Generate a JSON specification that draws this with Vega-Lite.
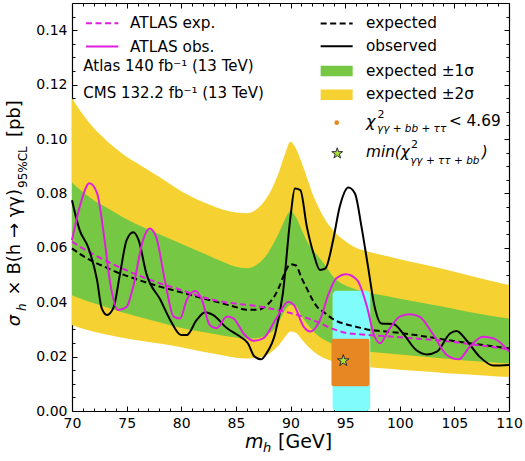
{
  "$schema": "https://vega.github.io/schema/vega-lite/v6.json",
  "width": 437,
  "height": 408,
  "autosize": {"type": "none"},
  "padding": {"left": 72, "top": 3, "right": 16, "bottom": 50},
  "background": "white",
  "config": {"view": {"stroke": null}, "font": "DejaVu Sans", "text": {"font": "DejaVu Sans", "color": "black"}},
  "resolve": {"axis": {"x": "independent", "y": "independent"}},
  "datasets": {
    "band": [
      {"m": 70, "lo2": 0.0316, "lo1": 0.0426, "exp": 0.0598, "hi1": 0.084, "hi2": 0.115},
      {"m": 71, "lo2": 0.0302, "lo1": 0.041, "exp": 0.057, "hi1": 0.0805, "hi2": 0.109},
      {"m": 72, "lo2": 0.0291, "lo1": 0.0396, "exp": 0.0548, "hi1": 0.0775, "hi2": 0.104},
      {"m": 73, "lo2": 0.0282, "lo1": 0.0383, "exp": 0.053, "hi1": 0.0752, "hi2": 0.1},
      {"m": 74, "lo2": 0.0274, "lo1": 0.037, "exp": 0.0512, "hi1": 0.0728, "hi2": 0.0965},
      {"m": 75, "lo2": 0.0267, "lo1": 0.0358, "exp": 0.0497, "hi1": 0.0705, "hi2": 0.0935},
      {"m": 76, "lo2": 0.026, "lo1": 0.0347, "exp": 0.0483, "hi1": 0.0685, "hi2": 0.091},
      {"m": 78, "lo2": 0.0248, "lo1": 0.0326, "exp": 0.0458, "hi1": 0.065, "hi2": 0.086},
      {"m": 80, "lo2": 0.0234, "lo1": 0.0305, "exp": 0.0436, "hi1": 0.0615, "hi2": 0.0808},
      {"m": 82, "lo2": 0.0218, "lo1": 0.029, "exp": 0.0414, "hi1": 0.058, "hi2": 0.0768},
      {"m": 84, "lo2": 0.0203, "lo1": 0.0276, "exp": 0.0393, "hi1": 0.0545, "hi2": 0.0738},
      {"m": 85, "lo2": 0.0196, "lo1": 0.027, "exp": 0.0382, "hi1": 0.053, "hi2": 0.073},
      {"m": 86, "lo2": 0.0193, "lo1": 0.0266, "exp": 0.0372, "hi1": 0.0525, "hi2": 0.0727},
      {"m": 87, "lo2": 0.0195, "lo1": 0.0268, "exp": 0.0372, "hi1": 0.054, "hi2": 0.0745},
      {"m": 88, "lo2": 0.021, "lo1": 0.0285, "exp": 0.0395, "hi1": 0.0585, "hi2": 0.0795},
      {"m": 88.5, "lo2": 0.0225, "lo1": 0.03, "exp": 0.042, "hi1": 0.062, "hi2": 0.0835},
      {"m": 89, "lo2": 0.0245, "lo1": 0.0332, "exp": 0.046, "hi1": 0.066, "hi2": 0.0885},
      {"m": 89.5, "lo2": 0.0272, "lo1": 0.037, "exp": 0.051, "hi1": 0.0705, "hi2": 0.0945},
      {"m": 90, "lo2": 0.0292, "lo1": 0.039, "exp": 0.054, "hi1": 0.0735, "hi2": 0.099},
      {"m": 90.5, "lo2": 0.0288, "lo1": 0.0385, "exp": 0.0535, "hi1": 0.0712, "hi2": 0.0965},
      {"m": 91, "lo2": 0.0265, "lo1": 0.035, "exp": 0.049, "hi1": 0.0668, "hi2": 0.0915},
      {"m": 91.5, "lo2": 0.0242, "lo1": 0.0322, "exp": 0.045, "hi1": 0.0625, "hi2": 0.0858},
      {"m": 92, "lo2": 0.0222, "lo1": 0.0298, "exp": 0.041, "hi1": 0.0595, "hi2": 0.08},
      {"m": 92.5, "lo2": 0.0207, "lo1": 0.0278, "exp": 0.038, "hi1": 0.057, "hi2": 0.0755},
      {"m": 93, "lo2": 0.0196, "lo1": 0.0264, "exp": 0.0365, "hi1": 0.0545, "hi2": 0.0715},
      {"m": 94, "lo2": 0.0181, "lo1": 0.0245, "exp": 0.0335, "hi1": 0.049, "hi2": 0.066},
      {"m": 95, "lo2": 0.0172, "lo1": 0.0233, "exp": 0.032, "hi1": 0.0462, "hi2": 0.0625},
      {"m": 96, "lo2": 0.0166, "lo1": 0.0226, "exp": 0.031, "hi1": 0.0447, "hi2": 0.06},
      {"m": 97, "lo2": 0.0162, "lo1": 0.022, "exp": 0.03, "hi1": 0.0436, "hi2": 0.0587},
      {"m": 98, "lo2": 0.0158, "lo1": 0.0215, "exp": 0.0295, "hi1": 0.0428, "hi2": 0.0577},
      {"m": 100, "lo2": 0.0152, "lo1": 0.0208, "exp": 0.0287, "hi1": 0.0413, "hi2": 0.0558},
      {"m": 102, "lo2": 0.0146, "lo1": 0.02, "exp": 0.0276, "hi1": 0.0398, "hi2": 0.054},
      {"m": 104, "lo2": 0.014, "lo1": 0.0193, "exp": 0.0263, "hi1": 0.0383, "hi2": 0.0522},
      {"m": 106, "lo2": 0.0135, "lo1": 0.0186, "exp": 0.0251, "hi1": 0.0367, "hi2": 0.0502},
      {"m": 108, "lo2": 0.013, "lo1": 0.018, "exp": 0.0241, "hi1": 0.0352, "hi2": 0.0482},
      {"m": 110, "lo2": 0.0125, "lo1": 0.0175, "exp": 0.023, "hi1": 0.034, "hi2": 0.0463}
    ],
    "atlasExp": [
      {"m": 70, "v": 0.0622}, {"m": 72, "v": 0.0575}, {"m": 74, "v": 0.0535}, {"m": 76, "v": 0.05},
      {"m": 78, "v": 0.047}, {"m": 80, "v": 0.0445}, {"m": 82, "v": 0.0418}, {"m": 84, "v": 0.04},
      {"m": 86, "v": 0.039}, {"m": 87, "v": 0.0385}, {"m": 88, "v": 0.0378}, {"m": 90, "v": 0.036},
      {"m": 92, "v": 0.0335}, {"m": 94, "v": 0.03}, {"m": 95, "v": 0.0288}, {"m": 96, "v": 0.0283},
      {"m": 98, "v": 0.0277}, {"m": 100, "v": 0.0271}, {"m": 102, "v": 0.0265}, {"m": 104, "v": 0.0258},
      {"m": 106, "v": 0.0248}, {"m": 108, "v": 0.0238}, {"m": 110, "v": 0.0227}
    ],
    "obs": [
      {"m": 70, "v": 0.0775}, {"m": 70.7, "v": 0.0665}, {"m": 71.5, "v": 0.06}, {"m": 72.3, "v": 0.048},
      {"m": 72.7, "v": 0.038}, {"m": 73.2, "v": 0.0353}, {"m": 73.8, "v": 0.038}, {"m": 74.4, "v": 0.0506},
      {"m": 75.0, "v": 0.0628}, {"m": 75.6, "v": 0.0657}, {"m": 76.1, "v": 0.0628}, {"m": 76.8, "v": 0.0506},
      {"m": 78.1, "v": 0.0408}, {"m": 79.0, "v": 0.0334}, {"m": 80.0, "v": 0.0279}, {"m": 80.5, "v": 0.0279},
      {"m": 81.4, "v": 0.0334}, {"m": 82.2, "v": 0.0363}, {"m": 82.9, "v": 0.0353}, {"m": 84.2, "v": 0.0304},
      {"m": 85.4, "v": 0.0273}, {"m": 86.1, "v": 0.0249}, {"m": 86.7, "v": 0.02}, {"m": 87.3, "v": 0.019},
      {"m": 87.8, "v": 0.0212}, {"m": 88.6, "v": 0.0285}, {"m": 89.3, "v": 0.0432}, {"m": 90.0, "v": 0.0714},
      {"m": 90.4, "v": 0.0818}, {"m": 90.9, "v": 0.0812}, {"m": 91.5, "v": 0.0677}, {"m": 92.1, "v": 0.058},
      {"m": 92.7, "v": 0.0518}, {"m": 93.2, "v": 0.0524}, {"m": 93.9, "v": 0.0628}, {"m": 94.5, "v": 0.075},
      {"m": 95.3, "v": 0.0822}, {"m": 95.9, "v": 0.08}, {"m": 96.5, "v": 0.0677}, {"m": 97.1, "v": 0.053},
      {"m": 97.7, "v": 0.0383}, {"m": 98.3, "v": 0.0322}, {"m": 99.4, "v": 0.032}, {"m": 100.3, "v": 0.0285},
      {"m": 101.5, "v": 0.0224}, {"m": 102.5, "v": 0.0208}, {"m": 103.4, "v": 0.0218}, {"m": 104.6, "v": 0.0285},
      {"m": 105.2, "v": 0.0294}, {"m": 106.1, "v": 0.026}, {"m": 107.3, "v": 0.02}, {"m": 108.6, "v": 0.0167},
      {"m": 110, "v": 0.0169}
    ],
    "atlasObs": [
      {"m": 70, "v": 0.0628}, {"m": 70.7, "v": 0.075}, {"m": 71.6, "v": 0.0837}, {"m": 72.3, "v": 0.08},
      {"m": 72.9, "v": 0.0653}, {"m": 73.5, "v": 0.0469}, {"m": 74.2, "v": 0.0371}, {"m": 75.0, "v": 0.0383},
      {"m": 75.6, "v": 0.0457}, {"m": 76.5, "v": 0.0628}, {"m": 77.1, "v": 0.0671}, {"m": 77.7, "v": 0.064},
      {"m": 78.5, "v": 0.0481}, {"m": 79.3, "v": 0.0347}, {"m": 79.9, "v": 0.034}, {"m": 80.5, "v": 0.0408},
      {"m": 81.3, "v": 0.0441}, {"m": 81.9, "v": 0.0408}, {"m": 82.6, "v": 0.0316}, {"m": 83.2, "v": 0.0304},
      {"m": 84.2, "v": 0.0347}, {"m": 84.8, "v": 0.034}, {"m": 85.7, "v": 0.0285}, {"m": 86.6, "v": 0.0258},
      {"m": 87.5, "v": 0.0267}, {"m": 88.7, "v": 0.034}, {"m": 89.8, "v": 0.0402}, {"m": 90.3, "v": 0.039},
      {"m": 91.2, "v": 0.031}, {"m": 91.8, "v": 0.0292}, {"m": 92.7, "v": 0.0334}, {"m": 93.5, "v": 0.0432},
      {"m": 94.2, "v": 0.0488}, {"m": 95.1, "v": 0.0503}, {"m": 96.1, "v": 0.0481}, {"m": 97.0, "v": 0.0383},
      {"m": 97.6, "v": 0.0285}, {"m": 98.2, "v": 0.0249}, {"m": 99.0, "v": 0.0298}, {"m": 100.0, "v": 0.0347},
      {"m": 100.9, "v": 0.0356}, {"m": 101.8, "v": 0.0347}, {"m": 103.0, "v": 0.0285}, {"m": 104.3, "v": 0.0206},
      {"m": 105.4, "v": 0.019}, {"m": 106.4, "v": 0.0236}, {"m": 107.6, "v": 0.0273}, {"m": 108.6, "v": 0.0267},
      {"m": 110, "v": 0.0218}
    ],
    "cyanRegion": [{"m0": 93.85, "m1": 97.3, "v0": 0, "v1": 0.0442}],
    "orangeRegion": [{"m0": 93.75, "m1": 97.22, "v0": 0.0091, "v1": 0.0266}],
    "best": [{"m": 94.83, "v": 0.0185}]
  },
  "layer": [
    {
      "data": {"name": "band"},
      "mark": {"type": "area", "color": "#f5d232", "interpolate": "monotone"},
      "encoding": {
        "x": {"field": "m", "type": "quantitative", "scale": {"domain": [70, 110], "nice": false, "zero": false},
          "axis": {"orient": "bottom", "title": null, "grid": false, "values": [70,71,72,73,74,75,76,77,78,79,80,81,82,83,84,85,86,87,88,89,90,91,92,93,94,95,96,97,98,99,100,101,102,103,104,105,106,107,108,109,110],
            "labelExpr": "datum.value % 5 === 0 ? format(datum.value, 'd') : ''",
            "tickSize": {"condition": {"test": "datum.value % 5 === 0", "value": -5}, "value": -3},
            "labelPadding": 10, "labelFontSize": 14, "labelColor": "black", "labelFont": "DejaVu Sans",
            "labelOverlap": false, "labelFlush": false, "domainColor": "black", "tickColor": "black", "domainWidth": 1.2, "tickWidth": 1}},
        "y": {"field": "lo2", "type": "quantitative", "scale": {"domain": [0, 0.15], "nice": false},
          "axis": {"orient": "left", "title": null, "grid": false, "values": [0,0.005,0.01,0.015,0.02,0.025,0.03,0.035,0.04,0.045,0.05,0.055,0.06,0.065,0.07,0.075,0.08,0.085,0.09,0.095,0.1,0.105,0.11,0.115,0.12,0.125,0.13,0.135,0.14,0.145],
            "labelExpr": "round(datum.value*1000) % 20 === 0 ? format(datum.value, '.2f') : ''",
            "tickSize": {"condition": {"test": "round(datum.value*1000) % 20 === 0", "value": -5}, "value": -3},
            "labelPadding": 10, "labelFontSize": 14, "labelColor": "black", "labelFont": "DejaVu Sans",
            "labelOverlap": false, "labelFlush": false, "domainColor": "black", "tickColor": "black", "domainWidth": 1.2, "tickWidth": 1}},
        "y2": {"field": "hi2"}
      }
    },
    {
      "data": {"name": "band"},
      "mark": {"type": "area", "color": "#76c844", "interpolate": "monotone"},
      "encoding": {
        "x": {"field": "m", "type": "quantitative",
          "axis": {"orient": "top", "title": null, "grid": false, "labels": false, "values": [70,71,72,73,74,75,76,77,78,79,80,81,82,83,84,85,86,87,88,89,90,91,92,93,94,95,96,97,98,99,100,101,102,103,104,105,106,107,108,109,110],
            "tickSize": {"condition": {"test": "datum.value % 5 === 0", "value": -5}, "value": -3},
            "domainColor": "black", "tickColor": "black", "domainWidth": 1.2, "tickWidth": 1}},
        "y": {"field": "lo1", "type": "quantitative",
          "axis": {"orient": "right", "title": null, "grid": false, "labels": false, "values": [0,0.005,0.01,0.015,0.02,0.025,0.03,0.035,0.04,0.045,0.05,0.055,0.06,0.065,0.07,0.075,0.08,0.085,0.09,0.095,0.1,0.105,0.11,0.115,0.12,0.125,0.13,0.135,0.14,0.145],
            "tickSize": {"condition": {"test": "round(datum.value*1000) % 20 === 0", "value": -5}, "value": -3},
            "domainColor": "black", "tickColor": "black", "domainWidth": 1.2, "tickWidth": 1}},
        "y2": {"field": "hi1"}
      }
    },
    {
      "data": {"name": "cyanRegion"},
      "mark": {"type": "rect", "color": "#80fcfc", "cornerRadius": 4},
      "encoding": {
        "x": {"field": "m0", "type": "quantitative", "axis": null}, "x2": {"field": "m1"},
        "y": {"field": "v0", "type": "quantitative", "axis": null}, "y2": {"field": "v1"}
      }
    },
    {
      "data": {"name": "orangeRegion"},
      "mark": {"type": "rect", "color": "#e68723", "cornerRadius": 2},
      "encoding": {
        "x": {"field": "m0", "type": "quantitative", "axis": null}, "x2": {"field": "m1"},
        "y": {"field": "v0", "type": "quantitative", "axis": null}, "y2": {"field": "v1"}
      }
    },
    {
      "data": {"name": "band"},
      "mark": {"type": "line", "color": "black", "strokeWidth": 2, "strokeDash": [6, 3.5], "interpolate": "monotone"},
      "encoding": {
        "x": {"field": "m", "type": "quantitative", "axis": null},
        "y": {"field": "exp", "type": "quantitative", "axis": null}
      }
    },
    {
      "data": {"name": "atlasExp"},
      "mark": {"type": "line", "color": "#e01ee0", "strokeWidth": 2, "strokeDash": [6, 3.5], "interpolate": "monotone"},
      "encoding": {
        "x": {"field": "m", "type": "quantitative", "axis": null},
        "y": {"field": "v", "type": "quantitative", "axis": null}
      }
    },
    {
      "data": {"name": "obs"},
      "mark": {"type": "line", "color": "black", "strokeWidth": 2, "interpolate": "monotone"},
      "encoding": {
        "x": {"field": "m", "type": "quantitative", "axis": null},
        "y": {"field": "v", "type": "quantitative", "axis": null}
      }
    },
    {
      "data": {"name": "atlasObs"},
      "mark": {"type": "line", "color": "#e01ee0", "strokeWidth": 2, "interpolate": "monotone"},
      "encoding": {
        "x": {"field": "m", "type": "quantitative", "axis": null},
        "y": {"field": "v", "type": "quantitative", "axis": null}
      }
    },
    {
      "data": {"name": "best"},
      "mark": {"type": "point", "filled": true, "fill": "#a8e03a", "stroke": "#333333", "strokeWidth": 1, "opacity": 1, "size": 150,
        "shape": "M0,-1L0.2245,-0.309L0.951,-0.309L0.363,0.118L0.588,0.809L0,0.382L-0.588,0.809L-0.363,0.118L-0.951,-0.309L-0.2245,-0.309Z"},
      "encoding": {
        "x": {"field": "m", "type": "quantitative", "axis": null},
        "y": {"field": "v", "type": "quantitative", "axis": null}
      }
    },
    {
      "data": {"values": [{}]},
      "layer": [
        {"mark": {"type": "rule", "color": "#e01ee0", "strokeWidth": 2, "strokeDash": [6, 3.5]},
         "encoding": {"x": {"datum": 71.28, "type": "quantitative", "axis": null}, "x2": {"datum": 74.24}, "y": {"datum": 0.1426, "type": "quantitative", "axis": null}}},
        {"mark": {"type": "rule", "color": "#e01ee0", "strokeWidth": 2},
         "encoding": {"x": {"datum": 71.28, "type": "quantitative", "axis": null}, "x2": {"datum": 74.24}, "y": {"datum": 0.134, "type": "quantitative", "axis": null}}},
        {"mark": {"type": "text", "align": "left", "baseline": "middle", "fontSize": 15.3, "text": "ATLAS exp."},
         "encoding": {"x": {"datum": 75.31, "type": "quantitative", "axis": null}, "y": {"datum": 0.1426, "type": "quantitative", "axis": null}}},
        {"mark": {"type": "text", "align": "left", "baseline": "middle", "fontSize": 15.3, "text": "ATLAS obs."},
         "encoding": {"x": {"datum": 75.31, "type": "quantitative", "axis": null}, "y": {"datum": 0.134, "type": "quantitative", "axis": null}}},
        {"mark": {"type": "text", "align": "left", "baseline": "middle", "fontSize": 15, "text": "Atlas 140 fb⁻¹ (13 TeV)"},
         "encoding": {"x": {"datum": 71.03, "type": "quantitative", "axis": null}, "y": {"datum": 0.1268, "type": "quantitative", "axis": null}}},
        {"mark": {"type": "text", "align": "left", "baseline": "middle", "fontSize": 15, "text": "CMS 132.2 fb⁻¹ (13 TeV)"},
         "encoding": {"x": {"datum": 71.03, "type": "quantitative", "axis": null}, "y": {"datum": 0.117, "type": "quantitative", "axis": null}}},
        {"mark": {"type": "rule", "color": "black", "strokeWidth": 2, "strokeDash": [6, 3.5]},
         "encoding": {"x": {"datum": 92.76, "type": "quantitative", "axis": null}, "x2": {"datum": 95.69}, "y": {"datum": 0.1425, "type": "quantitative", "axis": null}}},
        {"mark": {"type": "rule", "color": "black", "strokeWidth": 2},
         "encoding": {"x": {"datum": 92.76, "type": "quantitative", "axis": null}, "x2": {"datum": 95.69}, "y": {"datum": 0.1341, "type": "quantitative", "axis": null}}},
        {"mark": {"type": "rect", "color": "#76c844"},
         "encoding": {"x": {"datum": 92.76, "type": "quantitative", "axis": null}, "x2": {"datum": 95.69}, "y": {"datum": 0.1231, "type": "quantitative", "axis": null}, "y2": {"datum": 0.1269}}},
        {"mark": {"type": "rect", "color": "#f5d232"},
         "encoding": {"x": {"datum": 92.76, "type": "quantitative", "axis": null}, "x2": {"datum": 95.69}, "y": {"datum": 0.1143, "type": "quantitative", "axis": null}, "y2": {"datum": 0.1182}}},
        {"mark": {"type": "text", "align": "left", "baseline": "middle", "fontSize": 15.3, "text": "expected"},
         "encoding": {"x": {"datum": 96.91, "type": "quantitative", "axis": null}, "y": {"datum": 0.1425, "type": "quantitative", "axis": null}}},
        {"mark": {"type": "text", "align": "left", "baseline": "middle", "fontSize": 15.3, "text": "observed"},
         "encoding": {"x": {"datum": 96.91, "type": "quantitative", "axis": null}, "y": {"datum": 0.1341, "type": "quantitative", "axis": null}}},
        {"mark": {"type": "text", "align": "left", "baseline": "middle", "fontSize": 15.3, "text": "expected ±1σ"},
         "encoding": {"x": {"datum": 96.91, "type": "quantitative", "axis": null}, "y": {"datum": 0.1251, "type": "quantitative", "axis": null}}},
        {"mark": {"type": "text", "align": "left", "baseline": "middle", "fontSize": 15.3, "text": "expected ±2σ"},
         "encoding": {"x": {"datum": 96.91, "type": "quantitative", "axis": null}, "y": {"datum": 0.1164, "type": "quantitative", "axis": null}}},
        {"mark": {"type": "point", "filled": true, "color": "#e68723", "opacity": 1, "size": 22, "shape": "circle"},
         "encoding": {"x": {"datum": 94.23, "type": "quantitative", "axis": null}, "y": {"datum": 0.106, "type": "quantitative", "axis": null}}},
        {"mark": {"type": "point", "filled": true, "fill": "#a8e03a", "stroke": "#333333", "strokeWidth": 1, "opacity": 1, "size": 130,
           "shape": "M0,-1L0.2245,-0.309L0.951,-0.309L0.363,0.118L0.588,0.809L0,0.382L-0.588,0.809L-0.363,0.118L-0.951,-0.309L-0.2245,-0.309Z"},
         "encoding": {"x": {"datum": 94.28, "type": "quantitative", "axis": null}, "y": {"datum": 0.0947, "type": "quantitative", "axis": null}}},
        {"mark": {"type": "text", "align": "left", "baseline": "middle", "fontSize": 16, "fontStyle": "italic", "text": "χ"},
         "encoding": {"x": {"datum": 96.91, "type": "quantitative", "axis": null}, "y": {"datum": 0.1062, "type": "quantitative", "axis": null}}},
        {"mark": {"type": "text", "align": "left", "baseline": "middle", "fontSize": 11, "text": "2"},
         "encoding": {"x": {"datum": 97.96, "type": "quantitative", "axis": null}, "y": {"datum": 0.1088, "type": "quantitative", "axis": null}}},
        {"mark": {"type": "text", "align": "left", "baseline": "middle", "fontSize": 10.5, "fontStyle": "italic", "text": "γγ + bb + ττ"},
         "encoding": {"x": {"datum": 97.91, "type": "quantitative", "axis": null}, "y": {"datum": 0.1038, "type": "quantitative", "axis": null}}},
        {"mark": {"type": "text", "align": "left", "baseline": "middle", "fontSize": 15.3, "text": "< 4.69"},
         "encoding": {"x": {"datum": 104.5, "type": "quantitative", "axis": null}, "y": {"datum": 0.1066, "type": "quantitative", "axis": null}}},
        {"mark": {"type": "text", "align": "left", "baseline": "middle", "fontSize": 15.3, "fontStyle": "italic", "text": "min(χ"},
         "encoding": {"x": {"datum": 96.91, "type": "quantitative", "axis": null}, "y": {"datum": 0.0953, "type": "quantitative", "axis": null}}},
        {"mark": {"type": "text", "align": "left", "baseline": "middle", "fontSize": 11, "text": "2"},
         "encoding": {"x": {"datum": 101.04, "type": "quantitative", "axis": null}, "y": {"datum": 0.0977, "type": "quantitative", "axis": null}}},
        {"mark": {"type": "text", "align": "left", "baseline": "middle", "fontSize": 10.5, "fontStyle": "italic", "text": "γγ + ττ + bb"},
         "encoding": {"x": {"datum": 100.95, "type": "quantitative", "axis": null}, "y": {"datum": 0.0919, "type": "quantitative", "axis": null}}},
        {"mark": {"type": "text", "align": "left", "baseline": "middle", "fontSize": 15.3, "fontStyle": "italic", "text": ")"},
         "encoding": {"x": {"datum": 107.5, "type": "quantitative", "axis": null}, "y": {"datum": 0.0953, "type": "quantitative", "axis": null}}},
        {"mark": {"type": "text", "align": "left", "baseline": "middle", "fontSize": 19, "fontStyle": "italic", "text": "m"},
         "encoding": {"x": {"datum": 85.84, "type": "quantitative", "axis": null}, "y": {"datum": -0.0114, "type": "quantitative", "axis": null}}},
        {"mark": {"type": "text", "align": "left", "baseline": "middle", "fontSize": 13, "fontStyle": "italic", "text": "h"},
         "encoding": {"x": {"datum": 87.48, "type": "quantitative", "axis": null}, "y": {"datum": -0.0136, "type": "quantitative", "axis": null}}},
        {"mark": {"type": "text", "align": "left", "baseline": "middle", "fontSize": 19, "text": "[GeV]"},
         "encoding": {"x": {"datum": 88.86, "type": "quantitative", "axis": null}, "y": {"datum": -0.0114, "type": "quantitative", "axis": null}}},
        {"mark": {"type": "text", "align": "left", "baseline": "middle", "fontSize": 18, "fontStyle": "italic", "angle": 270, "text": "σ"},
         "encoding": {"x": {"datum": 64.78, "type": "quantitative", "axis": null}, "y": {"datum": 0.0312, "type": "quantitative", "axis": null}}},
        {"mark": {"type": "text", "align": "left", "baseline": "middle", "fontSize": 12, "fontStyle": "italic", "angle": 270, "text": "h"},
         "encoding": {"x": {"datum": 65.42, "type": "quantitative", "axis": null}, "y": {"datum": 0.0368, "type": "quantitative", "axis": null}}},
        {"mark": {"type": "text", "align": "left", "baseline": "middle", "fontSize": 18, "angle": 270, "text": "× B(h → γγ)"},
         "encoding": {"x": {"datum": 64.78, "type": "quantitative", "axis": null}, "y": {"datum": 0.0425, "type": "quantitative", "axis": null}}},
        {"mark": {"type": "text", "align": "left", "baseline": "middle", "fontSize": 12, "angle": 270, "text": "95%CL"},
         "encoding": {"x": {"datum": 65.47, "type": "quantitative", "axis": null}, "y": {"datum": 0.082, "type": "quantitative", "axis": null}}},
        {"mark": {"type": "text", "align": "left", "baseline": "middle", "fontSize": 18, "angle": 270, "text": "[pb]"},
         "encoding": {"x": {"datum": 64.78, "type": "quantitative", "axis": null}, "y": {"datum": 0.1007, "type": "quantitative", "axis": null}}}
      ]
    }
  ]
}
